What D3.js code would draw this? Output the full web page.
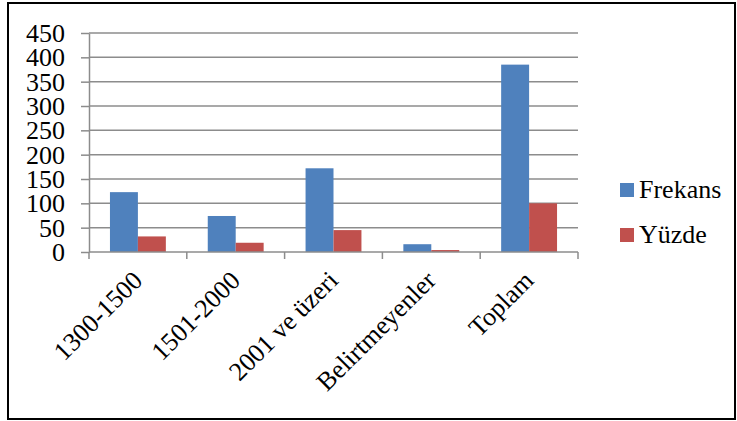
<!DOCTYPE html>
<html>
<head>
<meta charset="utf-8">
<script src="https://cdn.jsdelivr.net/npm/d3@7"></script>
<style>
  body { margin: 0; }
</style>
</head>
<body>
<svg id="viz" width="737" height="421"></svg>
<script>
// Frequency and percentage by category
const categories = ["1300-1500", "1501-2000", "2001 ve üzeri", "Belirtmeyenler", "Toplam"];
const seriesNames = ["Frekans", "Yüzde"];
const frekans = [123, 74, 172, 16, 385];
const yuzde = [32, 19, 45, 4, 100];
const yTicks = [0, 50, 100, 150, 200, 250, 300, 350, 400, 450];
const colors = ["#4f81bd", "#c0504d"];

const FONT = "Liberation Serif";
const FS = 26;

const svg = d3.select("#viz");

// outer frame
svg.append("rect")
  .attr("x", 8).attr("y", 3)
  .attr("width", 727).attr("height", 416)
  .attr("fill", "none").attr("stroke", "#000").attr("stroke-width", 2);

const plot = { left: 89, right: 578, top: 33, bottom: 252 };

const x = d3.scaleBand().domain(categories).range([plot.left, plot.right]).paddingInner(0).paddingOuter(0);
const x1 = d3.scaleBand().domain(seriesNames).range([0, x.bandwidth()]).paddingInner(0).paddingOuter(0.75);
const y = d3.scaleLinear().domain([0, 450]).range([plot.bottom, plot.top]);

const grid = "#8c8c8c";

// horizontal gridlines
svg.append("g").selectAll("line").data(yTicks.filter(d => d > 0)).join("line")
  .attr("x1", plot.left).attr("x2", plot.right)
  .attr("y1", d => y(d)).attr("y2", d => y(d))
  .attr("stroke", grid).attr("stroke-width", 1.5);

// bars, one pair per category
const rows = categories.map((c, i) => ({ c, vals: [frekans[i], yuzde[i]] }));
const gBars = svg.append("g");
rows.forEach(r => {
  r.vals.forEach((v, j) => {
    gBars.append("rect")
      .attr("x", x(r.c) + x1(seriesNames[j]))
      .attr("y", y(v))
      .attr("width", x1.bandwidth())
      .attr("height", y(0) - y(v))
      .attr("fill", colors[j]);
  });
});

// y axis
const yAxis = svg.append("g").attr("transform", `translate(${plot.left},0)`)
  .call(d3.axisLeft(y).tickValues(yTicks).tickSize(8).tickPadding(16).tickSizeOuter(0));
yAxis.attr("font-family", FONT).attr("font-size", FS);
yAxis.select(".domain").attr("stroke", grid).attr("stroke-width", 1.5);
yAxis.selectAll(".tick line").attr("stroke", grid).attr("stroke-width", 1.5);
yAxis.selectAll(".tick text")
  .attr("font-size", FS).attr("font-family", FONT).attr("fill", "#000")
  .attr("dy", "0.33em");

// x axis with boundary ticks between categories
const boundaries = categories.map(c => x(c)).concat([plot.right]);
const xAxisG = svg.append("g");
xAxisG.append("line")
  .attr("x1", plot.left).attr("x2", plot.right)
  .attr("y1", plot.bottom).attr("y2", plot.bottom)
  .attr("stroke", grid).attr("stroke-width", 1.5);
xAxisG.selectAll("line.tk").data(boundaries).join("line").attr("class", "tk")
  .attr("x1", d => d).attr("x2", d => d)
  .attr("y1", plot.bottom).attr("y2", plot.bottom + 7)
  .attr("stroke", grid).attr("stroke-width", 1.5);

xAxisG.selectAll("text").data(categories).join("text")
  .attr("transform", d => `translate(${x(d) + x.bandwidth() / 2 + 6},${plot.bottom + 30}) rotate(-45)`)
  .attr("text-anchor", "end")
  .attr("font-family", FONT)
  .attr("font-size", FS)
  .attr("fill", "#000")
  .text(d => d);

// legend: swatches plus the series labels
const legend = svg.append("g");
const ly = i => 190 + i * 45;
legend.selectAll("rect").data(seriesNames).join("rect")
  .attr("x", 620).attr("y", (d, i) => ly(i) - 7)
  .attr("width", 14).attr("height", 14)
  .attr("fill", (d, i) => colors[i]);
legend.selectAll("text").data(seriesNames).join("text")
  .attr("x", 639).attr("y", (d, i) => ly(i) + 8)
  .attr("font-family", FONT)
  .attr("font-size", FS)
  .attr("fill", "#000")
  .text(d => d);
</script>
</body>
</html>
